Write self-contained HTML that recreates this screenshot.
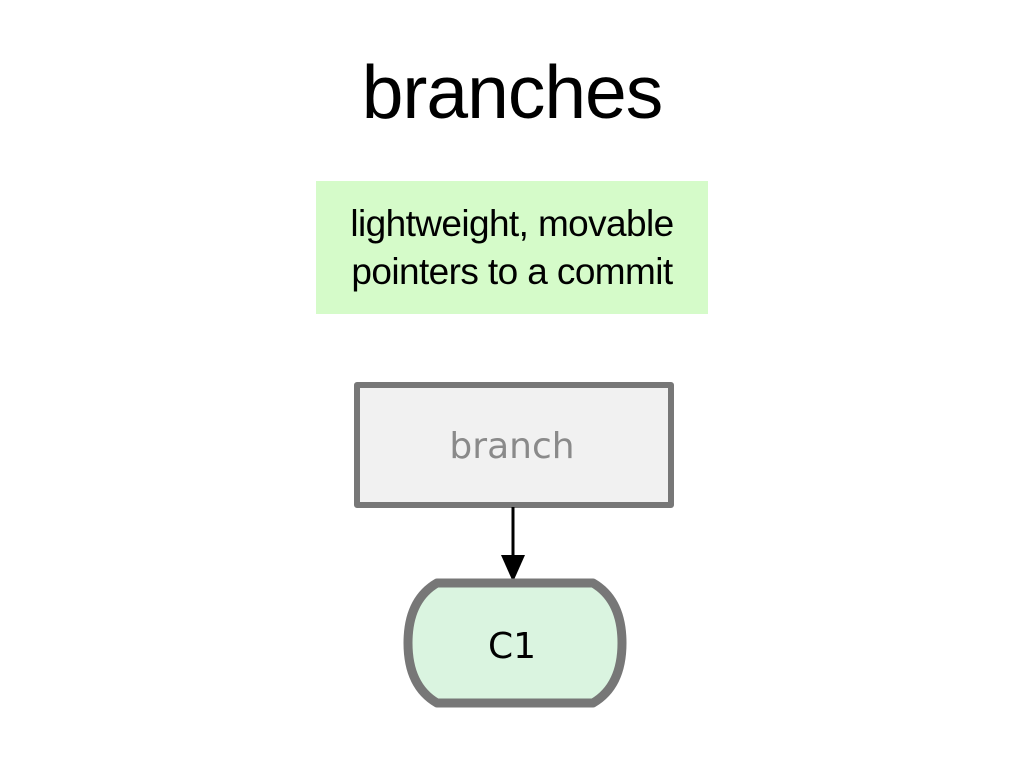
<!DOCTYPE html>
<html><head><meta charset="utf-8"><style>
html,body{margin:0;padding:0;background:#fff;width:1024px;height:768px;overflow:hidden;font-family:"Liberation Sans","DejaVu Sans",sans-serif}
.t{position:absolute;left:0;width:1024px;text-align:center;font-size:75px;top:49px;color:#000;letter-spacing:-1px}
.g{position:absolute;left:316px;top:181px;width:392px;height:133px;background:#d5fbc9;text-align:center;font-size:37px;line-height:48px;box-sizing:border-box;padding-top:19px;letter-spacing:-0.6px;white-space:nowrap}
</style></head><body>
<div class="t">branches</div>
<div class="g">lightweight, movable<br>pointers to a commit</div>
<svg width="1024" height="768" style="position:absolute;left:0;top:0">
<rect x="357" y="385" width="314" height="120" fill="#f1f1f1" stroke="#777" stroke-width="6" stroke-linejoin="round"/>
<text x="512" y="458" text-anchor="middle" font-family="DejaVu Sans, sans-serif" font-size="36" fill="#8a8a8a">branch</text>
<line x1="513" y1="507" x2="513" y2="558" stroke="#000" stroke-width="3"/>
<polygon points="501,555 525,555 513,582" fill="#000"/>
<path d="M437,583 L593,583 Q622,600 622,643 Q622,686 593,703 L437,703 Q408,686 408,643 Q408,600 437,583 Z" fill="#daf4e0" stroke="#777" stroke-width="9" stroke-linejoin="round"/>
<text x="512" y="658" text-anchor="middle" font-family="DejaVu Sans, sans-serif" font-size="36" fill="#000">C1</text>
</svg>
</body></html>
